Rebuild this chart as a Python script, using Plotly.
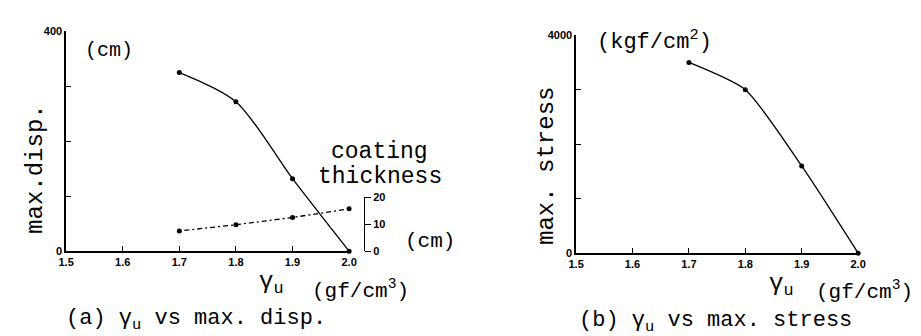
import plotly.graph_objects as go

# values
gamma_u = [1.7, 1.8, 1.9, 2.0]
max_disp = [325, 272, 132, 0]          # cm
coating_thickness = [7.5, 9.8, 12.5, 15.7]  # cm
max_stress = [3500, 3000, 1600, 0]     # kgf/cm2

x_ticks = [1.5, 1.6, 1.7, 1.8, 1.9, 2.0]
x_ticktext = ["1.5", "1.6", "1.7", "1.8", "1.9", "2.0"]

W, H = 921, 336
MONO = "Liberation Mono, Courier New, monospace"
NARROW = "Liberation Sans Narrow, Arial Narrow, Liberation Sans, sans-serif"


def px(x):
    return x / W


def py(y):
    return 1 - y / H


fig = go.Figure()

fig.add_trace(go.Scatter(
    x=gamma_u, y=max_disp, mode="lines+markers",
    line=dict(color="black", width=1.3, shape="spline", smoothing=0.8),
    marker=dict(color="black", size=5), cliponaxis=False,
    xaxis="x", yaxis="y", showlegend=False))

fig.add_trace(go.Scatter(
    x=gamma_u, y=coating_thickness, mode="lines+markers",
    line=dict(color="black", width=1.3, dash="2px,3px,5px,3px"),
    marker=dict(color="black", size=5), cliponaxis=False,
    xaxis="x", yaxis="y3", showlegend=False))

fig.add_trace(go.Scatter(
    x=gamma_u, y=max_stress, mode="lines+markers",
    line=dict(color="black", width=1.3, shape="spline", smoothing=0.6),
    marker=dict(color="black", size=5), cliponaxis=False,
    xaxis="x2", yaxis="y2", showlegend=False))

tick_font = dict(family=NARROW, size=11, color="black", weight="bold")
ax_common = dict(showgrid=False, zeroline=False, showline=True, linecolor="black",
                 linewidth=1.5, ticks="inside", ticklen=5, tickcolor="black",
                 tickwidth=1.3, tickfont=tick_font)

fig.update_layout(
    width=W, height=H, margin=dict(l=0, r=0, t=0, b=0),
    paper_bgcolor="white", plot_bgcolor="rgba(0,0,0,0)",
    xaxis=dict(domain=[px(51), px(339)], range=[1.5, 2.0], anchor="y",
               tickvals=x_ticks, ticktext=x_ticktext, **ax_common),
    yaxis=dict(domain=[py(246), py(18)], range=[0, 400], anchor="x",
               tickvals=[0, 100, 200, 300, 400], ticktext=["0", "", "", "", "400"],
               **ax_common),
    yaxis3=dict(domain=[py(246), py(190)], range=[0, 20], anchor="free",
                position=px(354), side="right", showgrid=False, zeroline=False,
                showline=True, linecolor="black", linewidth=1.3, ticks="outside",
                ticklen=6, tickcolor="black", tickvals=[0, 10, 20],
                tickfont=tick_font),
    xaxis2=dict(domain=[px(570), px(857)], range=[1.5, 2.0], anchor="y2",
                tickvals=x_ticks, ticktext=x_ticktext, **ax_common),
    yaxis2=dict(domain=[py(248), py(22)], range=[0, 4000], anchor="x2",
                tickvals=[0, 1000, 2000, 3000, 4000], ticktext=["0", "", "", "", "4000"],
                **ax_common),
)

texts = [
    # panel (a)
    (95, 38, "(cm)", 20, 0),
    (20, 161, "max.disp.", 24, -90),
    (370, 143, "coating", 23, 0),
    (370, 169, "thickness", 23, 0),
    (421, 236, "(cm)", 21, 0),
    (259, 279, "γ<sub>u</sub>", 24, 0),
    (351, 286, "(gf/cm<sup>3</sup>)", 21, 0),
    (183, 317, "(a) γ<sub>u</sub> vs max. disp.", 22, 0),
    # panel (b)
    (650, 27, "(kgf/cm<sup>2</sup>)", 22, 0),
    (540, 158, "max. stress", 24, -90),
    (779, 281, "γ<sub>u</sub>", 24, 0),
    (863, 287, "(gf/cm<sup>3</sup>)", 21, 0),
    (712, 319, "(b) γ<sub>u</sub> vs max. stress", 22, 0),
]
for x, y, t, s, rot in texts:
    fig.add_annotation(x=px(x), y=py(y), xref="paper", yref="paper", text=t,
                       showarrow=False, textangle=rot, xanchor="center", yanchor="middle",
                       font=dict(family=MONO, size=s, color="black"))

fig.write_html("out.html")
